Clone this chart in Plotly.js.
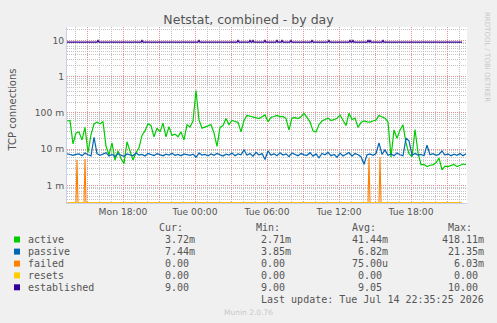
<!DOCTYPE html>
<html>
<head>
<meta charset="utf-8">
<script src="https://cdn.plot.ly/plotly-3.0.1.min.js"></script>
<style>html,body{margin:0;padding:0;background:#F0F0F0;}#chart{width:497px;height:323px;}</style>
</head>
<body>
<div id="chart"></div>
<script>
// ---- data (values in milli-connections, 15-minute samples from Mon 13:20) ----
const activeMilli = [
 60, 62, 14, 28, 30, 18, 40, 8, 25, 50,
 56, 50, 58, 12, 7, 15, 5, 9, 5.5, 4,
 16, 9, 5, 8, 11, 24, 32, 50, 45, 22,
 38, 30, 52, 22, 42, 24, 26, 22, 30, 18,
 47, 41, 60, 418.11, 64, 38, 40, 44, 48, 28,
 12, 40, 45, 70, 48, 62, 58, 55, 30, 62,
 85, 80, 76, 72, 70, 78, 88, 57, 75, 80,
 86, 78, 80, 70, 34, 72, 74, 70, 78, 98,
 72, 57, 32, 30, 48, 60, 66, 72, 62, 66,
 70, 88, 60, 45, 98, 66, 72, 40, 55, 60,
 57, 56, 60, 64, 85, 78, 72, 57, 6, 34,
 20, 34, 47, 15, 7.5, 6.2, 35, 8, 3.7, 3.8,
 3.3, 3.6, 3.7, 4.2, 5.7, 2.71, 3.4, 3.3, 3.6, 3.8,
 3.3, 3.5, 3.9, 3.72
];
const passiveMilli = [
 7.5, 7.0, 6.8, 7.2, 7.4, 6.6, 7.8, 7.0, 6.5, 21.35,
 7.5, 6.8, 7.2, 8.0, 6.5, 7.2, 6.2, 7.6, 6.8, 6.4,
 7.4, 7.0, 6.6, 7.8, 6.9, 7.2, 6.5, 7.6, 7.0, 6.7,
 7.5, 7.1, 6.6, 7.3, 6.9, 7.7, 6.8, 7.2, 6.6, 7.4,
 7.0, 6.8, 7.3, 6.0, 7.8, 6.9, 7.2, 6.6, 7.4, 6.8,
 7.6, 7.0, 6.5, 7.3, 6.9, 7.8, 6.6, 7.4, 7.0, 9.6,
 6.8, 7.6, 6.4, 8.2, 6.9, 7.6, 5.2, 9.0, 6.8, 7.5,
 6.6, 8.0, 6.9, 7.4, 6.2, 7.9, 7.1, 6.6, 7.6, 7.0,
 6.8, 8.0, 6.4, 7.4, 5.8, 7.6, 7.0, 8.2, 6.6, 7.2,
 6.0, 7.8, 6.5, 7.4, 8.1, 6.4, 7.6, 7.0, 6.2, 3.85,
 7.0, 7.4, 6.8, 7.6, 15, 7.2, 9.5, 6.8, 7.4, 6.6,
 7.8, 7.0, 6.6, 20, 17, 6.8, 7.6, 6.9, 7.2, 6.6,
 13, 7.0, 7.5, 6.8, 7.2, 9.0, 6.9, 7.4, 6.6, 7.3,
 6.8, 7.6, 6.6, 7.44
];
// failed: zero except short spikes (minutes after start, value in milli)
const failedSpikeMin = [50, 90, 1510, 1565];
const failedSpikeMilli = [5.1, 5.4, 5.7, 6.03];
// established: 9 except short bumps to 10 (minutes after start)
const establishedBase = 9;
const establishedPeak = 10;
const establishedBumpMin = [155, 375, 660, 855, 915, 930, 990, 1050, 1075, 1120, 1225, 1310, 1415, 1430, 1505, 1515, 1580];
const resetsValue = 0;

const tickLabels = ['', 'Mon 18:00', '', 'Tue 00:00', '', 'Tue 06:00', '', 'Tue 12:00', '', 'Tue 18:00', ''];
const yTickVals = [0.001, 0.01, 0.1, 1, 10];
const yTickText = ['1 m', '10 m', '100 m', '1', '10'];

const legendNames = ['active', 'passive', 'failed', 'resets', 'established'];
const legendColors = ['#00CC00', '#0066B3', '#FF8000', '#FFCC00', '#330099'];
const curVals = ['3.72m', '7.44m', '0.00', '0.00', '9.00'];
const minVals = ['2.71m', '3.85m', '0.00', '0.00', '9.00'];
const avgVals = ['41.44m', '6.82m', '75.00u', '0.00', '9.05'];
const maxVals = ['418.11m', '21.35m', '6.03m', '0.00', '10.00'];
const lastUpdate = 'Last update: Tue Jul 14 22:35:25 2026';

// ---- build ----
const START = Date.UTC(2026, 6, 13, 13, 20, 0);
const SPAN_MIN = 2000;
const MIN = 60000;
const tMin = m => START + m * MIN;
const yLo = -3.485, yHi = 1.372;
const FLOOR = Math.pow(10, yLo + 0.004);
const floorIt = v => (v <= 0 ? FLOOR : v);

const t15 = activeMilli.map((_, i) => tMin(i * 15));

const failedX = [tMin(0)], failedY = [0];
failedSpikeMin.forEach((m, k) => {
  failedX.push(tMin(m - 5), tMin(m), tMin(m + 5));
  failedY.push(0, failedSpikeMilli[k] / 1000, 0);
});
failedX.push(tMin(SPAN_MIN - 25)); failedY.push(0);

const estX = [tMin(0)], estY = [establishedBase];
establishedBumpMin.forEach(m => {
  estX.push(tMin(m - 5), tMin(m), tMin(m + 5));
  estY.push(establishedBase, establishedPeak, establishedBase);
});
estX.push(tMin(SPAN_MIN - 25)); estY.push(establishedBase);

const lw = 1.2;
const traces = [
  {x: t15, y: activeMilli.map(v => v / 1000), mode: 'lines', line: {color: legendColors[0], width: lw}},
  {x: t15, y: passiveMilli.map(v => v / 1000), mode: 'lines', line: {color: legendColors[1], width: lw}},
  {x: failedX, y: failedY.map(floorIt), mode: 'lines', line: {color: legendColors[2], width: 1.1}},
  {x: [tMin(0), tMin(SPAN_MIN - 25)], y: [resetsValue, resetsValue].map(floorIt), mode: 'lines', line: {color: legendColors[3], width: 1}},
  {x: estX, y: estY, mode: 'lines', line: {color: legendColors[4], width: lw}}
];

const tickVals = [];
for (let h = 0; h < 11; h++) tickVals.push(Date.UTC(2026, 6, 13, 15 + 3 * h, 0, 0));

// pixel -> paper helpers (plot area x 67..467, y 27..203)
const PX = px => (px - 67) / 400;
const PY = py => (203 - py) / 176;
const txtColor = '#555555';
const mono = 'DejaVu Sans Mono';
const CW = 6.02;

const ann = [];
const shapes = [];
function addText(text, px, py, opts) {
  ann.push(Object.assign({
    text: text, x: PX(px), y: PY(py), xref: 'paper', yref: 'paper',
    xanchor: 'left', yanchor: 'middle', showarrow: false, borderpad: 0,
    font: {family: mono, size: 10, color: txtColor}
  }, opts || {}));
}
// header
[['Cur:', 158], ['Min:', 255], ['Avg:', 351], ['Max:', 447]].forEach(h => addText(h[0], h[1], 227.7));
const rowY = [239.5, 251.6, 263.6, 275.4, 287.3];
const colRight = [194, 290.3, 386.7, 482.8];
legendNames.forEach((n, i) => {
  shapes.push({type: 'rect', xref: 'paper', yref: 'paper', x0: PX(14), x1: PX(20), y0: PY(rowY[i] + 3), y1: PY(rowY[i] - 3),
    fillcolor: legendColors[i], line: {width: 0}});
  addText(n, 26.5, rowY[i]);
  [curVals, minVals, avgVals, maxVals].forEach((arr, c) => {
    const s = arr[i];
    const hasSuffix = /[a-z]$/i.test(s);
    const chars = s.length + (hasSuffix ? 0 : 1);
    addText(s, colRight[c] - chars * CW, rowY[i]);
  });
});
addText(lastUpdate, 482.8 - lastUpdate.length * CW, 299.7);
// y axis title
ann.push({text: 'TCP connections', x: PX(11.5), y: PY(110), xref: 'paper', yref: 'paper', textangle: -90,
  xanchor: 'center', yanchor: 'middle', showarrow: false, font: {family: 'DejaVu Sans', size: 10, color: txtColor}});
// credits
ann.push({text: 'Munin 2.0.76', x: PX(248), y: PY(312), xref: 'paper', yref: 'paper', xanchor: 'center', yanchor: 'middle',
  showarrow: false, font: {family: 'DejaVu Sans', size: 7.5, color: '#c8c8c8'}});
ann.push({text: 'RRDTOOL / TOBI OETIKER', x: PX(487), y: PY(57), xref: 'paper', yref: 'paper', textangle: 90,
  xanchor: 'center', yanchor: 'middle', showarrow: false, font: {family: 'DejaVu Sans', size: 7, color: '#c8c8c8'}});

const majorGrid = 'rgba(240,128,128,0.75)';
const minorGrid = 'rgba(185,185,185,0.85)';
const tickFont = {family: 'DejaVu Sans', size: 9.2, color: txtColor};

const layout = {
  width: 497, height: 323,
  paper_bgcolor: '#F0F0F0', plot_bgcolor: '#FFFFFF',
  margin: {l: 67, r: 30, t: 27, b: 120, pad: 0},
  showlegend: false,
  title: {text: 'Netstat, combined - by day', font: {family: 'DejaVu Sans', size: 12.5, color: txtColor},
    x: 0.5, xref: 'container', xanchor: 'center', y: 1 - 19.5 / 323, yref: 'container', yanchor: 'middle'},
  xaxis: {
    type: 'date', range: [START, START + SPAN_MIN * MIN],
    tickmode: 'array', tickvals: tickVals, ticktext: tickLabels,
    showgrid: true, gridcolor: majorGrid, griddash: '1px,1px', gridwidth: 1,
    minor: {dtick: 3600000, tick0: Date.UTC(2026, 6, 13, 0, 0, 0), showgrid: true, gridcolor: minorGrid, griddash: '1px,1px', gridwidth: 1},
    ticks: '', tickfont: tickFont, showline: true, linecolor: '#c8d0f0', linewidth: 1, zeroline: false,
    fixedrange: true
  },
  yaxis: {
    type: 'log', range: [yLo, yHi],
    tickmode: 'array', tickvals: yTickVals, ticktext: yTickText,
    showgrid: true, gridcolor: majorGrid, griddash: '1px,1px', gridwidth: 1,
    minor: {dtick: 'D1', showgrid: true, gridcolor: minorGrid, griddash: '1px,1px', gridwidth: 1},
    ticks: '', tickfont: tickFont, showline: true, linecolor: '#c8d0f0', linewidth: 1, zeroline: false,
    fixedrange: true
  },
  annotations: ann,
  shapes: shapes
};

Plotly.newPlot('chart', traces, layout, {displayModeBar: false, staticPlot: true});
</script>
</body>
</html>
